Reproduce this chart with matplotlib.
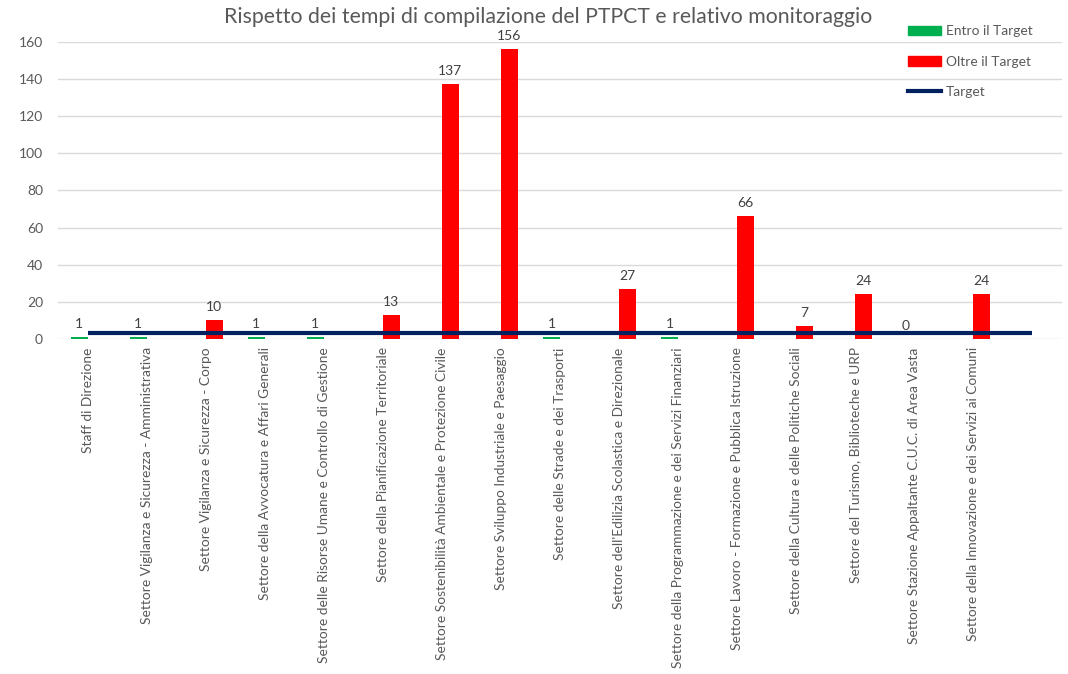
import numpy as np
import matplotlib
matplotlib.use("Agg")
from matplotlib import pyplot as plt
from matplotlib.patches import Patch
from matplotlib.lines import Line2D

plt.rcParams['font.family'] = ['Lato', 'DejaVu Sans']

settori = [
    "Staff di Direzione",
    "Settore Vigilanza e Sicurezza - Amministrativa",
    "Settore Vigilanza e Sicurezza - Corpo",
    "Settore della Avvocatura e Affari Generali",
    "Settore delle Risorse Umane e Controllo di Gestione",
    "Settore della Pianificazione Territoriale",
    "Settore Sostenibilità Ambientale e Protezione Civile",
    "Settore Sviluppo Industriale e Paesaggio",
    "Settore delle Strade e dei Trasporti",
    "Settore dell'Edilizia Scolastica e Direzionale",
    "Settore della Programmazione e dei Servizi Finanziari",
    "Settore Lavoro - Formazione e Pubblica Istruzione",
    "Settore della Cultura e delle Politiche Sociali",
    "Settore del Turismo, Biblioteche e URP",
    "Settore Stazione Appaltante C.U.C. di Area Vasta",
    "Settore della Innovazione e dei Servizi ai Comuni",
    "",
]
nan = np.nan
entro = [1, 1, nan, 1, 1, nan, nan, nan, 1, nan, 1, nan, nan, nan, 0, nan, nan]
oltre = [nan, nan, 10, nan, nan, 13, 137, 156, nan, 27, nan, 66, 7, 24, nan, 24, nan]
target = [3] * 17

verde = "#00B050"
rosso = "#FF0000"
blu = "#002060"
grigio = "#595959"

fig = plt.figure(figsize=(10.68, 6.74), dpi=100)
ax = fig.add_axes([58 / 1068, 1 - 339 / 674, 1004 / 1068, (339 - 41.7) / 674])

x = np.arange(len(settori))
w = 0.288
b1 = ax.bar(x - w / 2, entro, w, color=verde, zorder=2)
b2 = ax.bar(x + w / 2, oltre, w, color=rosso, zorder=2)
ax.plot(x, target, color=blu, lw=3, zorder=3, solid_capstyle='butt')

for bars, vals in ((b1, entro), (b2, oltre)):
    for r, v in zip(bars, vals):
        if np.isnan(v):
            continue
        ax.annotate(f"{int(v)}", (r.get_x() + r.get_width() / 2, v),
                    xytext=(0, 5), textcoords="offset points",
                    ha="center", va="bottom", fontsize=10, color="#404040")

ax.set_xlim(-0.5, len(settori) - 0.5)
ax.set_ylim(0, 160)
ax.set_yticks(range(0, 161, 20))
ax.set_xticks(x)
ax.set_xticklabels(settori, rotation=90, fontsize=9.9, color=grigio)
ax.tick_params(axis='y', labelsize=10, colors=grigio, length=0, pad=10.8)
ax.tick_params(axis='x', length=0, pad=6)
ax.grid(axis='y', color="#D9D9D9", lw=1, zorder=0)
for s in ax.spines.values():
    s.set_visible(False)

fig.text(548 / 1068, 1 - 17 / 674, "Rispetto dei tempi di compilazione del PTPCT e relativo monitoraggio",
         ha="center", va="center", fontsize=15.3, color=grigio)

handles = [Patch(color=verde), Patch(color=rosso), Line2D([], [], color=blu, lw=3)]
fig.legend(handles, ["Entro il Target", "Oltre il Target", "Target"],
           loc="upper left", bbox_to_anchor=(896 / 1068, 1 - 13 / 674),
           frameon=False, fontsize=9.9, labelspacing=1.34, handlelength=2.4,
           handletextpad=0.3, labelcolor=grigio)

fig.savefig("out.png", dpi=100)
